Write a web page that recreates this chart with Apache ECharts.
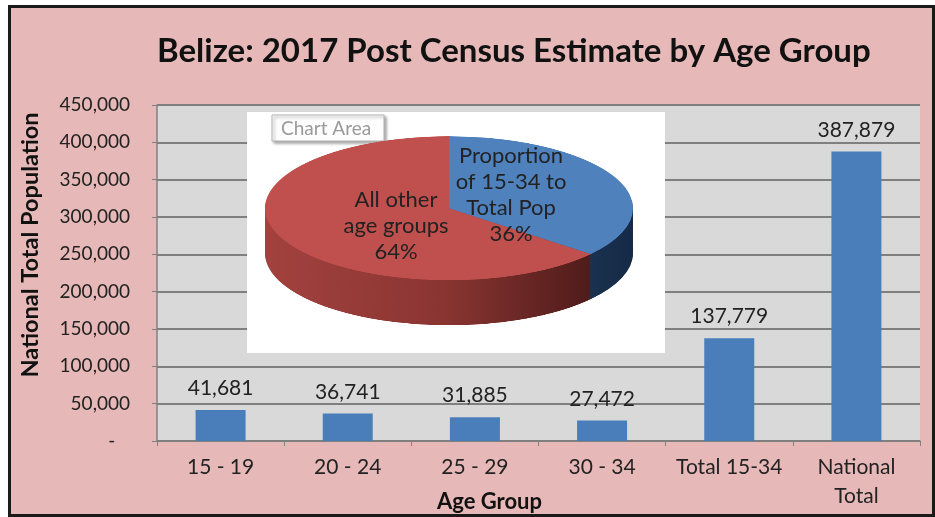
<!DOCTYPE html>
<html>
<head>
<meta charset="utf-8">
<script src="https://cdn.jsdelivr.net/npm/echarts@6/dist/echarts.min.js"></script>
<style>
  html, body { margin: 0; padding: 0; background: #fff; }
  #wrap { position: relative; width: 935px; height: 517px; overflow: hidden; }
  #frame { position: absolute; left: 8px; top: 5px; width: 921px; height: 506px; background: #e6b9b8; border: 3px solid #1a1a1a; }
  #main, #labels { position: absolute; left: 0; top: 0; width: 935px; height: 517px; }
  #pie { position: absolute; left: 239px; top: 130px; width: 420px; height: 520px; transform: scaleY(0.3913); transform-origin: 0 0; }
</style>
</head>
<body>
<div id="wrap">
  <div id="frame"></div>
  <div id="main"></div>
  <div id="pie"></div>
  <div id="labels"></div>
</div>
<script>
const categories = ['15 - 19', '20 - 24', '25 - 29', '30 - 34', 'Total 15-34', 'National\nTotal'];
const population = [41681, 36741, 31885, 27472, 137779, 387879];
const pieNames = ['Proportion\nof 15-34 to\nTotal Pop', 'All other\nage groups'];
const pieShares = [36, 64];

const font = 'Lato, "Open Sans", sans-serif';
const fmt = (v) => v.toLocaleString('en-US');

// bar chart
const main = echarts.init(document.getElementById('main'));
main.setOption({
    animation: false,
    backgroundColor: 'transparent',
    title: {
        text: 'Belize: 2017 Post Census Estimate by Age Group',
        left: 152,
        top: 30,
        textStyle: { fontFamily: font, fontSize: 33, fontWeight: 'bold', color: '#111' }
    },
    grid: {
        left: 157, right: 15, top: 105, bottom: 76,
        outerBoundsMode: 'none', containLabel: false,
        show: true, backgroundColor: '#d9d9d9', borderWidth: 0
    },
    xAxis: {
        type: 'category',
        data: categories,
        name: 'Age Group',
        nameLocation: 'middle',
        nameGap: 50,
        nameMoveOverlap: false,
        nameTextStyle: { fontFamily: font, fontSize: 22, fontWeight: 'bold', color: '#111', padding: [0, 98, 0, 0] },
        axisLine: { lineStyle: { color: '#808080', width: 1.5 } },
        axisTick: { show: true, length: 5, lineStyle: { color: '#808080' } },
        axisLabel: { interval: 0, fontFamily: font, fontSize: 21, color: '#222', margin: 12, lineHeight: 29 }
    },
    yAxis: {
        type: 'value',
        min: 0, max: 450000, interval: 50000,
        name: 'National Total Population',
        nameLocation: 'middle',
        nameGap: 115,
        nameMoveOverlap: false,
        nameTextStyle: { fontFamily: font, fontSize: 23.5, fontWeight: 'bold', color: '#111', padding: [0, 0, 0, 56] },
        axisLine: { show: true, lineStyle: { color: '#808080', width: 1.5 } },
        axisTick: { show: true, length: 5, lineStyle: { color: '#808080' } },
        axisLabel: {
            fontFamily: font, fontSize: 19, color: '#222', margin: 27,
            formatter: (v) => v === 0 ? '-   ' : fmt(v)
        },
        splitLine: { lineStyle: { color: '#7f7f7f', width: 2 } }
    },
    series: [{
        type: 'bar',
        data: population,
        barWidth: 50,
        itemStyle: { color: '#4a7ebb' },
        label: {
            show: true, position: 'top', distance: 11,
            fontFamily: font, fontSize: 21, color: '#222',
            formatter: (p) => fmt(p.value)
        }
    }],
    graphic: [
        { type: 'rect', z: 100, shape: { x: 247, y: 112, width: 418, height: 241 }, style: { fill: '#ffffff' } },
        {
            type: 'rect', z: 101, shape: { x: 272, y: 115, width: 112, height: 26 },
            style: { fill: '#fdfdfd', stroke: '#b5b5b5', lineWidth: 1, shadowBlur: 3, shadowColor: 'rgba(0,0,0,0.35)', shadowOffsetX: 2, shadowOffsetY: 2 }
        },
        {
            type: 'text', z: 102, x: 281, y: 129,
            style: { text: 'Chart Area', fontFamily: font, fontSize: 19, fill: '#9a9a9a', verticalAlign: 'middle' }
        }
    ]
});

// inset 3D-looking pie: stacked pies squashed by css
const topColors = ['#4f81bd', '#c0504d'];
const sideColors = [
    new echarts.graphic.LinearGradient(0, 0, 1, 0, [{ offset: 0, color: '#2b4a73' }, { offset: 1, color: '#152a45' }]),
    new echarts.graphic.LinearGradient(0, 0, 1, 0, [{ offset: 0, color: '#a3423f' }, { offset: 0.55, color: '#8a3532' }, { offset: 1, color: '#4f1c1a' }])
];
const pieData = (colors) => pieNames.map((n, i) => ({ name: n, value: pieShares[i], itemStyle: { color: colors[i] } }));

const pieSeries = [];
const depth = 115;
let k = 0;
for (let d = depth; d > 0; d -= 4) {
    pieSeries.push({
        type: 'pie', center: [210, 200 + d], radius: 184, startAngle: 90, z: 2 + k++,
        silent: true, label: { show: false }, labelLine: { show: false },
        itemStyle: { borderWidth: 0 }, data: pieData(sideColors)
    });
}
pieSeries.push({
    type: 'pie', center: [210, 200], radius: 184, startAngle: 90, z: 2 + k,
    silent: true, label: { show: false }, labelLine: { show: false },
    itemStyle: { borderWidth: 0 }, data: pieData(topColors)
});

const pie = echarts.init(document.getElementById('pie'));
pie.setOption({ animation: false, backgroundColor: 'transparent', series: pieSeries });

// pie labels, kept unsquashed on top
const labels = echarts.init(document.getElementById('labels'));
const labelPos = [[511, 195], [396, 226]];
labels.setOption({
    animation: false,
    backgroundColor: 'transparent',
    graphic: pieNames.map((n, i) => ({
        type: 'text', x: labelPos[i][0], y: labelPos[i][1], silent: true,
        style: {
            text: n + '\n' + pieShares[i] + '%',
            fontFamily: font, fontSize: 22, lineHeight: 26, fill: '#222',
            align: 'center', verticalAlign: 'middle'
        }
    }))
});
</script>
</body>
</html>
